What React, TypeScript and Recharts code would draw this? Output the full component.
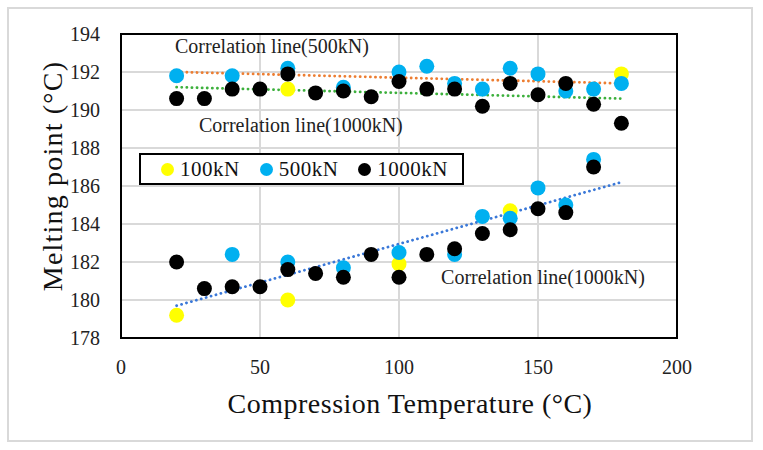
import React from 'react'
import {
    ComposedChart, Scatter, Line, XAxis, YAxis, CartesianGrid, ReferenceArea, ReferenceDot, Label,
} from 'recharts'

// Compression temperature (°C) vs melting point (°C)
const series100kN = [
    { x: 20, y: 179.2 }, { x: 60, y: 180.0 }, { x: 60, y: 191.1 }, { x: 100, y: 181.9 },
    { x: 140, y: 184.7 }, { x: 180, y: 191.9 },
]

const series500kN = [
    { x: 20, y: 191.8 }, { x: 40, y: 191.8 }, { x: 60, y: 192.2 }, { x: 80, y: 191.2 },
    { x: 100, y: 192.0 }, { x: 110, y: 192.3 }, { x: 120, y: 191.4 }, { x: 130, y: 191.1 },
    { x: 140, y: 192.2 }, { x: 150, y: 191.9 }, { x: 160, y: 191.0 }, { x: 170, y: 191.1 },
    { x: 180, y: 191.4 },
    { x: 40, y: 182.4 }, { x: 60, y: 182.0 }, { x: 80, y: 181.7 }, { x: 100, y: 182.5 },
    { x: 120, y: 182.4 }, { x: 130, y: 184.4 }, { x: 140, y: 184.3 }, { x: 150, y: 185.9 },
    { x: 160, y: 185.0 }, { x: 170, y: 187.4 },
]

const series1000kN = [
    { x: 20, y: 190.6 }, { x: 30, y: 190.6 }, { x: 40, y: 191.1 }, { x: 50, y: 191.1 },
    { x: 60, y: 191.9 }, { x: 70, y: 190.9 }, { x: 80, y: 191.0 }, { x: 90, y: 190.7 },
    { x: 100, y: 191.5 }, { x: 110, y: 191.1 }, { x: 120, y: 191.1 }, { x: 130, y: 190.2 },
    { x: 140, y: 191.4 }, { x: 150, y: 190.8 }, { x: 160, y: 191.4 }, { x: 170, y: 190.3 },
    { x: 180, y: 189.3 },
    { x: 20, y: 182.0 }, { x: 30, y: 180.6 }, { x: 40, y: 180.7 }, { x: 50, y: 180.7 },
    { x: 60, y: 181.6 }, { x: 70, y: 181.4 }, { x: 80, y: 181.2 }, { x: 90, y: 182.4 },
    { x: 100, y: 181.2 }, { x: 110, y: 182.4 }, { x: 120, y: 182.7 }, { x: 130, y: 183.5 },
    { x: 140, y: 183.7 }, { x: 150, y: 184.8 }, { x: 160, y: 184.6 }, { x: 170, y: 187.0 },
]

// correlation (trend) lines, end points
const trend500kN = [{ x: 20, y: 192.0 }, { x: 180, y: 191.4 }]
const trend1000kNHigh = [{ x: 20, y: 191.2 }, { x: 180, y: 190.6 }]
const trend1000kNLow = [{ x: 20, y: 179.7 }, { x: 180, y: 186.2 }]

const trendLabels = [
    { x: 54.3, y: 193.4, text: 'Correlation  line(500kN)' },
    { x: 64.7, y: 189.2, text: 'Correlation  line(1000kN)' },
    { x: 151.8, y: 181.2, text: 'Correlation  line(1000kN)' },
]

const xTicks = [0, 50, 100, 150, 200]
const yTicks = [178, 180, 182, 184, 186, 188, 190, 192, 194]

const series = [
    { name: '100kN', data: series100kN, color: '#ffff00' },
    { name: '500kN', data: series500kN, color: '#00b0f0' },
    { name: '1000kN', data: series1000kN, color: '#000000' },
]

const trends = [
    { data: trend500kN, color: '#ed7d31' },
    { data: trend1000kNHigh, color: '#3cb03c' },
    { data: trend1000kNLow, color: '#3a78d8' },
]

const FONT = '"Liberation Serif", "DejaVu Serif", serif'

const dot = (color: string) => (props: any) => (
    <circle cx={props.cx} cy={props.cy} r={7.5} fill={color} />
)

function LegendBox() {
    return (
        <div style={{
            position: 'absolute', left: 139, top: 153, width: 325, height: 32,
            boxSizing: 'border-box', border: '2px solid #000', background: '#fff',
            display: 'flex', alignItems: 'center', paddingLeft: 20,
            fontFamily: FONT, fontSize: 21, color: '#111',
        }}>
            {series.map((s) => (
                <span key={s.name} style={{ display: 'flex', alignItems: 'center', marginRight: 20 }}>
                    <span style={{ width: 13, height: 13, borderRadius: 7, background: s.color, marginRight: 6 }} />
                    <span style={{ letterSpacing: 0.5 }}>{s.name}</span>
                </span>
            ))}
        </div>
    )
}

export default function App() {
    return (
        <div style={{ position: 'absolute', left: 0, top: 0, width: 763, height: 450, background: '#fff' }}>
            <div style={{
                position: 'absolute', left: 7, top: 7, width: 746, height: 435,
                border: '2px solid #d9d9d9', boxSizing: 'border-box',
            }} />
            <ComposedChart
                width={763}
                height={450}
                margin={{ top: 34, right: 86, bottom: 32, left: 21 }}
                style={{ position: 'absolute', left: 0, top: 0 }}
            >
                <CartesianGrid stroke="#d9d9d9" strokeWidth={2} />
                <XAxis
                    type="number"
                    dataKey="x"
                    domain={[0, 200]}
                    ticks={xTicks}
                    height={80}
                    axisLine={false}
                    tickLine={false}
                    tickSize={0}
                    tickMargin={22}
                    tick={{ fontFamily: FONT, fontSize: 20, fill: '#222' }}
                >
                    <Label
                        content={({ viewBox }: any) => (
                            <text
                                x={viewBox.x + viewBox.width / 2 + 11}
                                y={viewBox.y + 75}
                                textAnchor="middle"
                                fontFamily={FONT}
                                fontSize={28}
                                letterSpacing={0.5}
                                fill="#111"
                            >
                                Compression Temperature (°C)
                            </text>
                        )}
                    />
                </XAxis>
                <YAxis
                    type="number"
                    dataKey="y"
                    domain={[178, 194]}
                    ticks={yTicks}
                    width={100}
                    axisLine={false}
                    tickLine={false}
                    tickSize={0}
                    tickMargin={21}
                    tick={{ fontFamily: FONT, fontSize: 20, fill: '#222' }}
                >
                    <Label
                        content={({ viewBox }: any) => {
                            const cx = viewBox.x + 31
                            const cy = viewBox.y + viewBox.height / 2 - 10
                            return (
                                <text
                                    x={cx}
                                    y={cy}
                                    transform={`rotate(-90, ${cx}, ${cy})`}
                                    textAnchor="middle"
                                    dominantBaseline="central"
                                    fontFamily={FONT}
                                    fontSize={28}
                                    letterSpacing={1.2}
                                    fill="#111"
                                >
                                    Melting point (°C)
                                </text>
                            )
                        }}
                    />
                </YAxis>
                <ReferenceArea x1={0} x2={200} y1={178} y2={194} fill="none" stroke="#000" strokeWidth={2} />
                {series.map((s) => (
                    <Scatter
                        key={s.name}
                        name={s.name}
                        data={s.data}
                        fill={s.color}
                        shape={dot(s.color)}
                        isAnimationActive={false}
                    />
                ))}
                {trends.map((t, i) => (
                    <Line
                        key={i}
                        data={t.data}
                        dataKey="y"
                        type="linear"
                        stroke={t.color}
                        strokeWidth={2.8}
                        strokeDasharray="0.1 5"
                        strokeLinecap="round"
                        dot={false}
                        activeDot={false}
                        legendType="none"
                        isAnimationActive={false}
                    />
                ))}
                {trendLabels.map((l, i) => (
                    <ReferenceDot key={i} x={l.x} y={l.y} r={0} fill="none" stroke="none">
                        <Label
                            value={l.text}
                            position="center"
                            style={{ fontFamily: FONT, fontSize: 20, fill: '#222', whiteSpace: 'pre' }}
                        />
                    </ReferenceDot>
                ))}
            </ComposedChart>
            <LegendBox />
        </div>
    )
}
